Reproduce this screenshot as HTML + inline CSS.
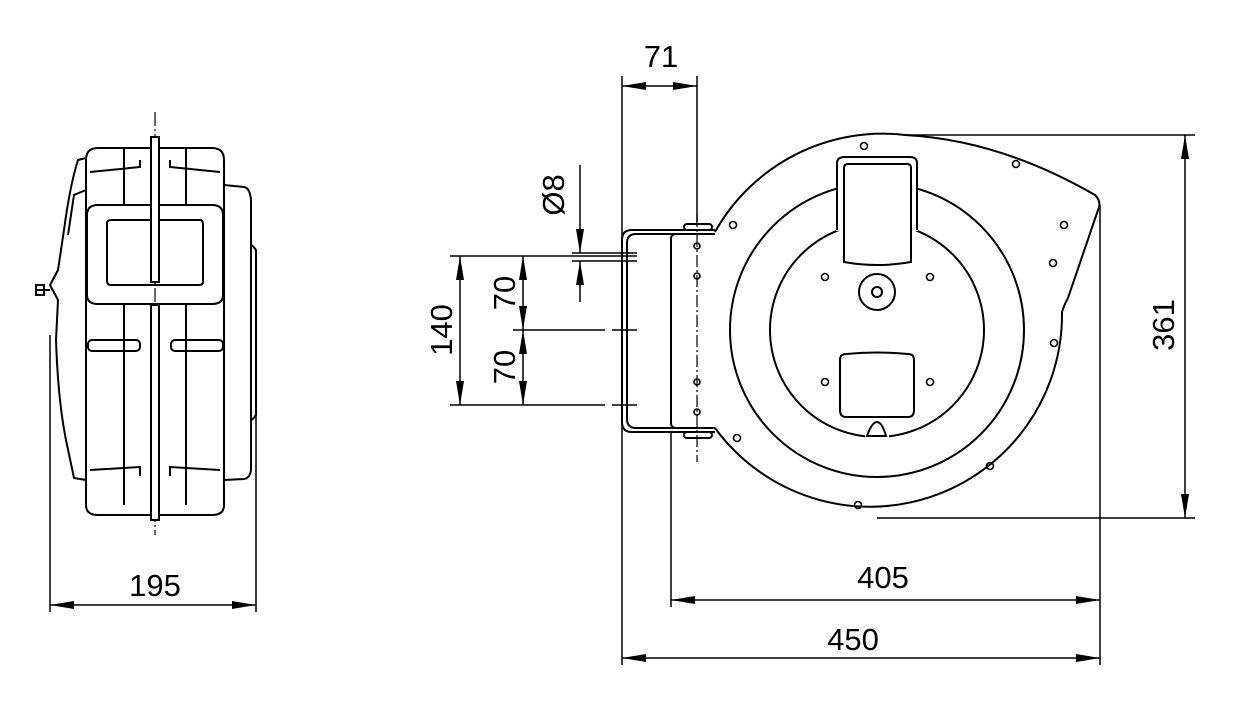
<!DOCTYPE html>
<html><head><meta charset="utf-8"><style>html,body{margin:0;padding:0;background:#fff}svg{display:block}</style></head>
<body>
<svg width="1236" height="720" viewBox="0 0 1236 720" xmlns="http://www.w3.org/2000/svg" font-family="Liberation Sans, sans-serif" font-size="31">
<defs>
<marker id="a" viewBox="0 0 24 8" refX="24" refY="4" markerWidth="24" markerHeight="8" markerUnits="userSpaceOnUse" orient="auto-start-reverse"><path d="M0,0 L24,4 L0,8 z" fill="#000"/></marker>
</defs>
<g fill="none" stroke="#000" stroke-width="2">
<!-- LEFT VIEW -->
<line x1="155" y1="112" x2="155" y2="535" stroke-width="1.2" stroke-dasharray="14,3,2,3"/>
<path d="M86,160 Q86,148 98,148 L212,148 Q224,148 224,160 L224,505 Q224,515 212,515 L98,515 Q86,515 86,505 Z"/>
<path d="M224,185 L244,187 Q250,188 251,200 L251,470 Q250,478 244,479 L224,480"/>
<path d="M252,245 L256,250 L256,415 L252,420"/>
<path d="M86,158 L78,160 Q70,185 64,230 L58,270 L50,285 L58,300 L56,340 Q58,400 66,440 L74,478 L86,480"/>
<path d="M86,190 L74,195 L68,235"/>
<line x1="36" y1="290" x2="50" y2="290"/><rect x="36" y="285" width="8" height="10"/>
<path d="M87,215 Q87,205 98,205 L212,205 Q223,205 223,215 L223,295 Q223,304 212,304 L98,304 Q87,304 87,295 Z"/>
<path d="M107,223 Q107,220 112,220 L200,220 Q203,220 203,225 L203,282 Q203,285 199,285 L111,285 Q107,285 107,281 Z"/>
<line x1="124" y1="148" x2="124" y2="205"/><line x1="186" y1="148" x2="186" y2="205"/>
<line x1="124" y1="305" x2="124" y2="505"/><line x1="186" y1="305" x2="186" y2="505"/>
<path d="M90,172 L140,167 L140,160"/><path d="M220,172 L170,167 L170,160"/>
<path d="M90,470 L140,467 L140,476"/><path d="M220,470 L170,467 L170,476"/>
<rect x="88" y="340" width="52" height="11" rx="4"/><rect x="171" y="340" width="52" height="11" rx="4"/>
<rect x="151" y="137" width="8" height="145" fill="#fff"/>
<rect x="151" y="305" width="8" height="215" fill="#fff"/>
<!-- 195 dim -->
<line x1="50" y1="335" x2="50" y2="612" stroke-width="1.5"/>
<line x1="256" y1="250" x2="256" y2="612" stroke-width="1.5"/>
<line x1="50" y1="605" x2="256" y2="605" stroke-width="1.5" marker-start="url(#a)" marker-end="url(#a)"/>

<!-- RIGHT VIEW -->
<path d="M715,232 A192,192 0 0 1 905,135 Q1000,140 1095,195 Q1102,202 1098,210 L1068,298 Q1064,305 1062,312 A192,192 0 0 1 715,428"/>
<circle cx="877" cy="330" r="147"/>
<circle cx="877" cy="330" r="107"/>
<rect x="836" y="156" width="82" height="75" fill="#fff" stroke="none"/>
<path d="M837,230 L837,163 Q837,157 845,157 L910,157 Q917,157 917,163 L917,230"/>
<path d="M844,262 L844,168 Q844,164 848,164 L907,164 Q911,164 911,168 L911,262 Q877,268 844,262 Z"/>
<circle cx="877" cy="292" r="18"/><circle cx="877" cy="292" r="5"/>
<path d="M840,360 Q840,354 846,354 Q877,351 908,354 Q914,354 914,360 L914,410 Q914,417 908,417 L846,417 Q840,417 840,410 Z"/>
<line x1="865" y1="436" x2="889" y2="436" stroke="#fff" stroke-width="4"/>
<path d="M867,436 Q872,422 877,422 Q882,422 886,436 Z"/>
<g stroke-width="1.6">
<circle cx="864" cy="146" r="3.5"/><circle cx="1016" cy="164" r="3.5"/><circle cx="733" cy="225" r="3.5"/><circle cx="1064" cy="225" r="3.5"/>
<circle cx="1053" cy="263" r="3.5"/><circle cx="825" cy="277" r="3.5"/><circle cx="930" cy="277" r="3.5"/><circle cx="1054" cy="343" r="3.5"/>
<circle cx="825" cy="382" r="3.5"/><circle cx="930" cy="382" r="3.5"/><circle cx="737" cy="438" r="3.5"/><circle cx="990" cy="466" r="3.5"/><circle cx="858" cy="505" r="3.5"/>
<circle cx="697" cy="246" r="3"/><circle cx="697" cy="276" r="3"/><circle cx="697" cy="382" r="3"/><circle cx="697" cy="412" r="3"/>
</g>
<!-- bracket -->
<path d="M715,230 L632,230 Q622,230 622,240 L622,422 Q622,432 632,432 L715,432"/>
<path d="M715,234 L636,234 Q627,234 627,243 L627,419 Q627,428 636,428 L715,428"/>
<path d="M715,234 L676,234 Q671,234 671,239 L671,423 Q671,428 676,428"/>
<rect x="684" y="224" width="28" height="6" rx="3"/><rect x="684" y="432" width="28" height="6" rx="3"/>
<line x1="697" y1="215" x2="697" y2="462" stroke-width="1.2" stroke-dasharray="12,3,2,3"/>
<!-- extension lines -->
<g stroke-width="1.5">
<line x1="622" y1="76" x2="622" y2="665"/>
<line x1="697" y1="76" x2="697" y2="222"/>
<line x1="671" y1="432" x2="671" y2="607"/>
<line x1="1100" y1="205" x2="1100" y2="665"/>
<line x1="905" y1="135" x2="1195" y2="135"/>
<line x1="877" y1="518" x2="1195" y2="518"/>
<line x1="450" y1="256" x2="637" y2="256"/>
<line x1="572" y1="253" x2="637" y2="253"/><line x1="572" y1="261" x2="637" y2="261"/>
<line x1="513" y1="330" x2="605" y2="330"/><line x1="612" y1="330" x2="637" y2="330"/>
<line x1="450" y1="405" x2="605" y2="405"/><line x1="612" y1="405" x2="637" y2="405"/>
<line x1="622" y1="86" x2="697" y2="86" marker-start="url(#a)" marker-end="url(#a)"/>
<line x1="580" y1="165" x2="580" y2="253" marker-end="url(#a)"/>
<line x1="580" y1="302" x2="580" y2="261" marker-end="url(#a)"/>
<line x1="460" y1="256" x2="460" y2="405" marker-start="url(#a)" marker-end="url(#a)"/>
<line x1="523" y1="256" x2="523" y2="330" marker-start="url(#a)" marker-end="url(#a)"/>
<line x1="523" y1="330" x2="523" y2="405" marker-start="url(#a)" marker-end="url(#a)"/>
<line x1="1185" y1="135" x2="1185" y2="518" marker-start="url(#a)" marker-end="url(#a)"/>
<line x1="671" y1="600" x2="1100" y2="600" marker-start="url(#a)" marker-end="url(#a)"/>
<line x1="622" y1="658" x2="1100" y2="658" marker-start="url(#a)" marker-end="url(#a)"/>
</g>
</g>
<g fill="#000" text-anchor="middle">
<text x="155" y="596">195</text>
<text x="661" y="67">71</text>
<text x="883" y="588">405</text>
<text x="853" y="650">450</text>
<text transform="translate(564,195) rotate(-90)">Ø8</text>
<text transform="translate(452,330) rotate(-90)">140</text>
<text transform="translate(515,293) rotate(-90)">70</text>
<text transform="translate(515,367) rotate(-90)">70</text>
<text transform="translate(1174,325) rotate(-90)">361</text>
</g>
</svg>
</body></html>
